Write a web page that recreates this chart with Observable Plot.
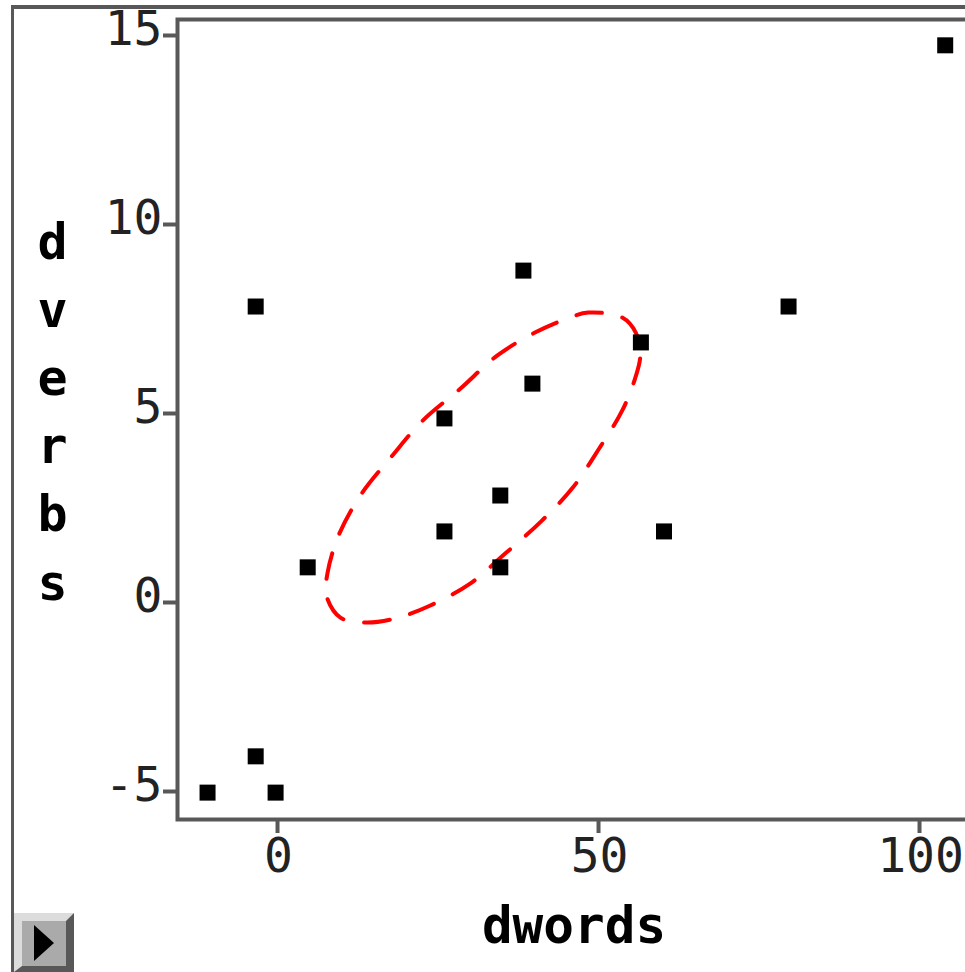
<!DOCTYPE html>
<html>
<head>
<meta charset="utf-8">
<script src="https://cdn.jsdelivr.net/npm/d3@7"></script>
<script src="https://cdn.jsdelivr.net/npm/@observablehq/plot@0.6"></script>
<style>
  body { margin: 0; background: #fff; }
  #wrap { position: relative; width: 965px; height: 972px; overflow: hidden; background: #fff; }
  #wrap svg { position: absolute; left: 0; top: 0; max-width: none !important; }
  #outer { position: absolute; left: 11px; top: 5px; right: -20px; bottom: -20px;
           border-left: 3px solid #585858; border-top: 4px solid #585858; pointer-events: none; }
  #btn { position: absolute; left: 14px; top: 913px; width: 60px; height: 59px; box-sizing: border-box;
         background: #aaaaaa; border-top: 8px solid #dcdcdc; border-left: 8px solid #dcdcdc;
         border-right: 8px solid #585858; border-bottom: 6px solid #585858; }
  #tri { position: absolute; left: 34px; top: 925px; width: 0; height: 0;
         border-left: 20px solid #000; border-top: 18px solid transparent; border-bottom: 18px solid transparent; }
</style>
</head>
<body>
<div id="wrap"></div>
<script>
// Scatter points
const dwords = [104.0, -3.4, 38.3, 79.6, 56.6, 39.7, 26.0, 34.7, 26.0, 60.2, 4.7, 34.7, -3.4, -10.9, -0.3];
const dverbs = [14.74, 7.83, 8.78, 7.83, 6.88, 5.79, 4.87, 2.83, 1.88, 1.88, 0.93, 0.93, -4.07, -5.03, -5.03];

// Red dashed ellipse outline (clockwise from top)
const ellipseX = [48.4, 53.7, 55.8, 56.5, 55.7, 53.7, 50.2, 45.9, 40.9, 35.5, 30.0, 23.8, 18.4, 13.7, 9.8, 7.6, 7.8, 9.5, 12.9, 17.9, 22.6, 28.5, 34.2, 40.1, 45.6];
const ellipseY = [7.67, 7.54, 7.14, 6.53, 5.93, 5.08, 4.10, 3.02, 2.12, 1.30, 0.50, -0.08, -0.42, -0.53, -0.40, 0.19, 0.79, 1.77, 2.83, 3.89, 4.81, 5.66, 6.53, 7.14, 7.54];

// Axes
const xTicks = [0, 50, 100];
const yTicks = [-5, 0, 5, 10, 15];
const xLabel = "dwords";
const yLabel = "dverbs";

const points = dwords.map((x, i) => ({x, y: dverbs[i]}));
const ellipse = ellipseX.map((x, i) => ({x, y: ellipseY[i]}));

const gray = "#585858";
const mono = "DejaVu Sans Mono, monospace";
const fmt = d => String(d);

const chart = Plot.plot({
  width: 975,
  height: 972,
  marginLeft: 177,
  marginRight: 5,
  marginTop: 19,
  marginBottom: 153,
  style: {background: "transparent", overflow: "visible"},
  x: {domain: [-15.58, 107.94]},
  y: {domain: [-5.741, 15.423]},
  marks: [
    Plot.frame({stroke: gray, strokeWidth: 4}),
    Plot.axisX({ticks: xTicks, text: null, tickSize: 14, stroke: gray, strokeWidth: 4, label: null}),
    Plot.axisX({ticks: xTicks, tickFormat: fmt, tickSize: 0, tickPadding: 18, dx: 1, fill: "#222", fontSize: 48, fontFamily: mono, label: null}),
    Plot.axisY({ticks: yTicks, text: null, tickSize: 14, stroke: gray, strokeWidth: 4, label: null}),
    Plot.axisY({ticks: yTicks, tickFormat: fmt, tickSize: 0, tickPadding: 15, dy: -5.5, fill: "#222", fontSize: 48, fontFamily: mono, label: null}),
    Plot.line(ellipse, {x: "x", y: "y", curve: "catmull-rom-closed", stroke: "#ff0000", strokeWidth: 4, strokeDasharray: "26,21"}),
    Plot.dot(points, {x: "x", y: "y", symbol: "square", r: 9.03, fill: "#000", stroke: "none"}),
    Plot.text([xLabel], {frameAnchor: "bottom", lineAnchor: "bottom", dx: 0, dy: 123, text: d => d,
      fontSize: 51, fontWeight: "bold", fontFamily: mono, fill: "#000"}),
    Plot.text([yLabel.split("").join("\n")], {frameAnchor: "top-left", lineAnchor: "bottom", textAnchor: "middle",
      dx: -125, dy: 580, lineHeight: 1.364, text: d => d, fontSize: 50, fontWeight: "bold", fontFamily: mono, fill: "#000"})
  ]
});
chart.style.maxWidth = "none";
const wrap = document.getElementById("wrap");
wrap.appendChild(chart);
const outer = document.createElement("div"); outer.id = "outer"; wrap.appendChild(outer);
const btn = document.createElement("div"); btn.id = "btn"; wrap.appendChild(btn);
const tri = document.createElement("div"); tri.id = "tri"; wrap.appendChild(tri);
</script>
</body>
</html>
